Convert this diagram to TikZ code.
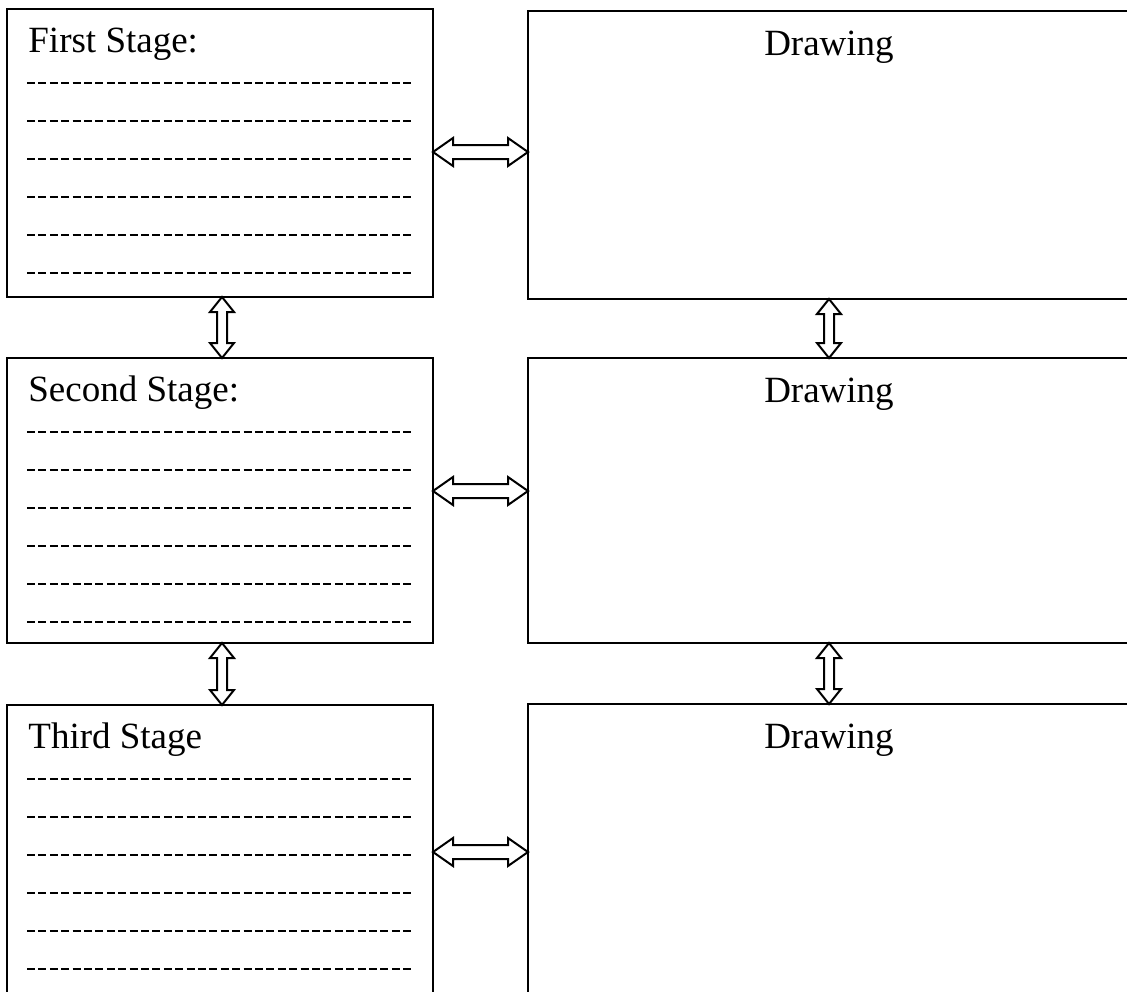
\documentclass[tikz,border=0pt]{standalone}
\usepackage{fontspec}
\setmainfont{Liberation Serif}
\usetikzlibrary{calc}

\tikzset{
  px/.style={x=0.5pt, y=-0.5pt},
  leftbox/.style={draw, line width=1pt, anchor=north west, inner sep=0pt, outer sep=0pt,
                  minimum width=213pt},
  rightbox/.style={draw, line width=1pt, anchor=north west, inner sep=0pt, outer sep=0pt,
                   minimum width=301pt},
  title/.style={inner sep=0pt, font=\fontsize{18.5pt}{22pt}\selectfont},
  ruleline/.style={line width=1pt, dash pattern=on 4pt off 1.7pt},
  arrowline/.style={line width=1pt, line join=miter, fill=white}
}

% open double arrow, horizontal: tips at #1 (left) and #2 (right)
\newcommand{\hdouble}[2]{%
  \draw[arrowline] (#1) -- ++(20,-14) -- ++(0,7) -- ($(#2)+(-20,-7)$) -- ++(0,-7)
    -- (#2) -- ++(-20,14) -- ++(0,-7) -- ($(#1)+(20,7)$) -- ++(0,7) -- cycle;}
% open double arrow, vertical: tips at #1 (top) and #2 (bottom)
\newcommand{\vdouble}[2]{%
  \draw[arrowline] (#1) -- ++(-12,15) -- ++(7,0) -- ($(#2)+(-5,-15)$) -- ++(-7,0)
    -- (#2) -- ++(12,-15) -- ++(-7,0) -- ($(#1)+(5,15)$) -- ++(7,0) -- cycle;}

\begin{document}
\begin{tikzpicture}[px]
  \useasboundingbox (0,0) rectangle (1127,991);
  \clip (0,0) rectangle (1127,991);

  % stage boxes (left column)
  \node[leftbox, minimum height=144pt]   (L1) at (7,9)   {};
  \node[leftbox, minimum height=142.5pt] (L2) at (7,358) {};
  \node[leftbox, minimum height=170pt]   (L3) at (7,705) {};

  % drawing boxes (right column)
  \node[rightbox, minimum height=144pt]   (R1) at (528,11)  {};
  \node[rightbox, minimum height=142.5pt] (R2) at (528,358) {};
  \node[rightbox, minimum height=170pt]   (R3) at (528,704) {};

  % headings
  \node[title, anchor=base west] (t1) at ($(L1.north west)+(21,43)$) {First Stage:};
  \node[title, anchor=base west] (t2) at ($(L2.north west)+(21,43)$) {Second Stage:};
  \node[title, anchor=base west] (t3) at ($(L3.north west)+(21,43)$) {Third Stage};
  \node[title, anchor=base] (d1) at ($(R1.north)+(0,44)$) {Drawing};
  \node[title, anchor=base] (d2) at ($(R2.north)+(0,44)$) {Drawing};
  \node[title, anchor=base] (d3) at ($(R3.north)+(0,44)$) {Drawing};

  % blank lines to write on
  \foreach \b in {L1,L2,L3}
    \foreach \k in {0,...,5}
      \draw[ruleline] ($(\b.north west)+(20,74+38*\k)$) -- ++(384,0);

  % horizontal links
  \coordinate (h1a) at ($(L1.north east)+(0,143)$);
  \coordinate (h1b) at (h1a -| R1.west);
  \coordinate (h2a) at ($(L2.north east)+(0,133)$);
  \coordinate (h2b) at (h2a -| R2.west);
  \coordinate (h3a) at ($(L3.north east)+(0,147)$);
  \coordinate (h3b) at (h3a -| R3.west);
  \hdouble{h1a}{h1b}
  \hdouble{h2a}{h2b}
  \hdouble{h3a}{h3b}

  % vertical links
  \coordinate (v1a) at ($(L1.south)+(2,0)$);
  \coordinate (v1b) at (v1a |- L2.north);
  \coordinate (v2a) at ($(L2.south)+(2,0)$);
  \coordinate (v2b) at (v2a |- L3.north);
  \coordinate (w1a) at (R1.south);
  \coordinate (w1b) at (w1a |- R2.north);
  \coordinate (w2a) at (R2.south);
  \coordinate (w2b) at (w2a |- R3.north);
  \vdouble{v1a}{v1b}
  \vdouble{v2a}{v2b}
  \vdouble{w1a}{w1b}
  \vdouble{w2a}{w2b}
\end{tikzpicture}
\end{document}
